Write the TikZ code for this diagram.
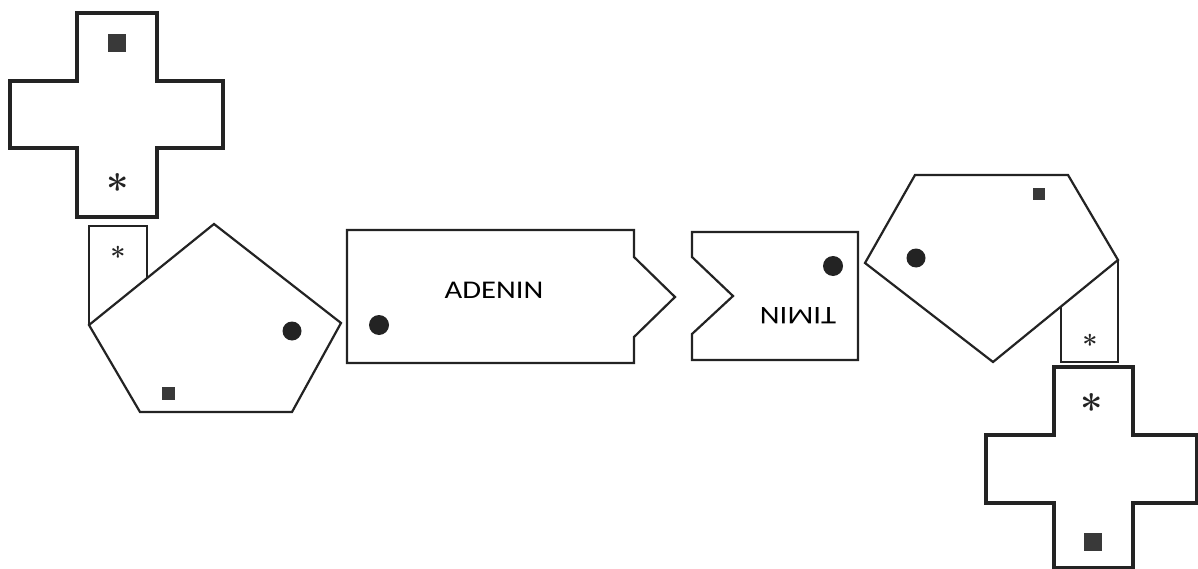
\documentclass[tikz,border=0pt]{standalone}
\usepackage{fontspec}
\newfontfamily\labelfont{Carlito}
\definecolor{ink}{HTML}{232323}
\begin{document}
\begin{tikzpicture}[x=1pt,y=-1pt,
  crossline/.style={draw=ink, line width=3.2pt, line join=miter},
  shapeline/.style={draw=ink, line width=2.2pt, line join=miter},
  dotmark/.style={fill=ink},
  sqmark/.style={fill=ink!90!white},
  basename/.style={inner sep=0pt, font=\labelfont\fontsize{25.5}{25.5}\selectfont, text=black, xscale=1.2},
  bigstar/.style={inner sep=0pt, anchor=base, text=ink, font=\bfseries\fontsize{40}{40}\selectfont},
  smallstar/.style={inner sep=0pt, anchor=base, text=ink, font=\bfseries\fontsize{27}{27}\selectfont}
]
\useasboundingbox[fill=white] (0,0) rectangle (1198,569);

% top-left cross
\draw[crossline] (77,13) -- (157,13) -- (157,81) -- (223,81) -- (223,148) -- (157,148)
  -- (157,217) -- (77,217) -- (77,148) -- (10,148) -- (10,81) -- (77,81) -- cycle;
\fill[sqmark] (108,34) rectangle (126,52);
\node[bigstar] (starA) at (118,204) {*};

% left sugar (pentagon) with side tab
\draw[shapeline] (89,325) -- (89,226) -- (147,226) -- (147,278);
\draw[shapeline] (214,224) -- (341,323) -- (292,412) -- (140,412) -- (89,325) -- cycle;
\fill[dotmark] (292,331) circle (9.5);
\fill[sqmark] (161.5,386.5) rectangle (174.5,399.5);
\node[smallstar] (starB) at (118,266) {*};

% ADENIN
\draw[shapeline] (347,230) -- (634,230) -- (634,257) -- (675,297) -- (634,337) -- (634,363)
  -- (347,363) -- cycle;
\fill[dotmark] (379,325) circle (10);
\node[basename] (adenin) at (494,290) {ADENIN};

% TIMIN
\draw[shapeline] (692,232) -- (858,232) -- (858,360) -- (692,360) -- (692,334) -- (733,296)
  -- (692,257) -- cycle;
\fill[dotmark] (833,266) circle (10);
\node[basename, rotate=180] (timin) at (798,316) {TIMIN};

% right sugar (pentagon) with side tab
\draw[shapeline] (915,175) -- (1068,175) -- (1118,260) -- (993,362) -- (865,263) -- cycle;
\draw[shapeline] (1118,260) -- (1118,362) -- (1061,362) -- (1061,307);
\fill[dotmark] (916,258) circle (9.5);
\fill[sqmark] (1033,188) rectangle (1045,200);
\node[smallstar] (starC) at (1090,354) {*};

% bottom-right cross
\draw[crossline] (1054,367) -- (1133,367) -- (1133,435) -- (1197,435) -- (1197,503) -- (1133,503)
  -- (1133,568) -- (1054,568) -- (1054,503) -- (986,503) -- (986,435) -- (1054,435) -- cycle;
\fill[sqmark] (1084,533) rectangle (1102,551);
\node[bigstar] (starD) at (1092,423) {*};
\end{tikzpicture}
\end{document}
